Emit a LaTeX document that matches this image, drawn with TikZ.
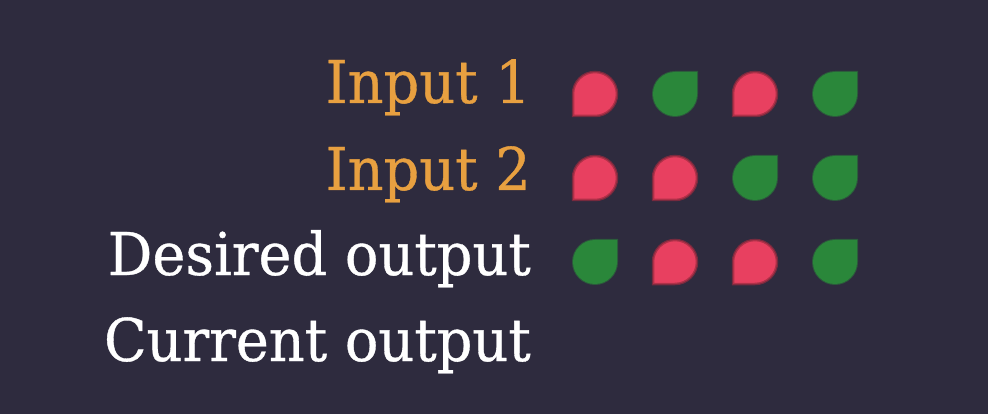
\documentclass[tikz,border=0pt]{standalone}
\usepackage{fontspec}
\setmainfont{DejaVu Serif}[FakeStretch=0.945,FakeBold=0.6]
\definecolor{bgcol}{RGB}{46,43,62}
\definecolor{inputcol}{RGB}{232,160,64}
\definecolor{offcol}{RGB}{232,64,96}
\definecolor{oncol}{RGB}{42,135,58}

\begin{document}
\begin{tikzpicture}[x=1pt,y=1pt,
                  rowlabel/.style={anchor=base east, inner sep=0pt,
                              font=\fontsize{59}{59}\selectfont},
                  pics/drop0/.style={code={
                        \fill[offcol, draw=offcol!65!black, draw opacity=0.7, line width=2.5pt]
                              (-22,-22) -- (0,-22) arc[start angle=-90, end angle=180, radius=22pt] -- cycle;}},
                  pics/drop1/.style={code={
                        \fill[oncol, draw=oncol, draw opacity=0.5, line width=2pt]
                              (22,22) -- (0,22) arc[start angle=90, end angle=360, radius=22pt] -- cycle;}}]
            \useasboundingbox[fill=bgcol] (0,0) rectangle (988,-414);
            % row labels
            \node[rowlabel, text=inputcol] (in1) at (531,-103) {Input 1};
            \node[rowlabel, text=inputcol] (in2) at (531,-190) {Input 2};
            \node[rowlabel, text=white] (want) at (531,-275) {Desired output};
            \node[rowlabel, text=white] (got) at (531,-361) {Current output};
            % 0 = red, 1 = green
            \foreach \y/\bits in {94/{0,1,0,1}, 178/{0,0,1,1}, 262/{1,0,0,1}} {
                  \foreach \b [count=\i] in \bits {
                        \pic at (515+80*\i,-\y) {drop\b};
                  }
            }
      \end{tikzpicture}
\end{document}
